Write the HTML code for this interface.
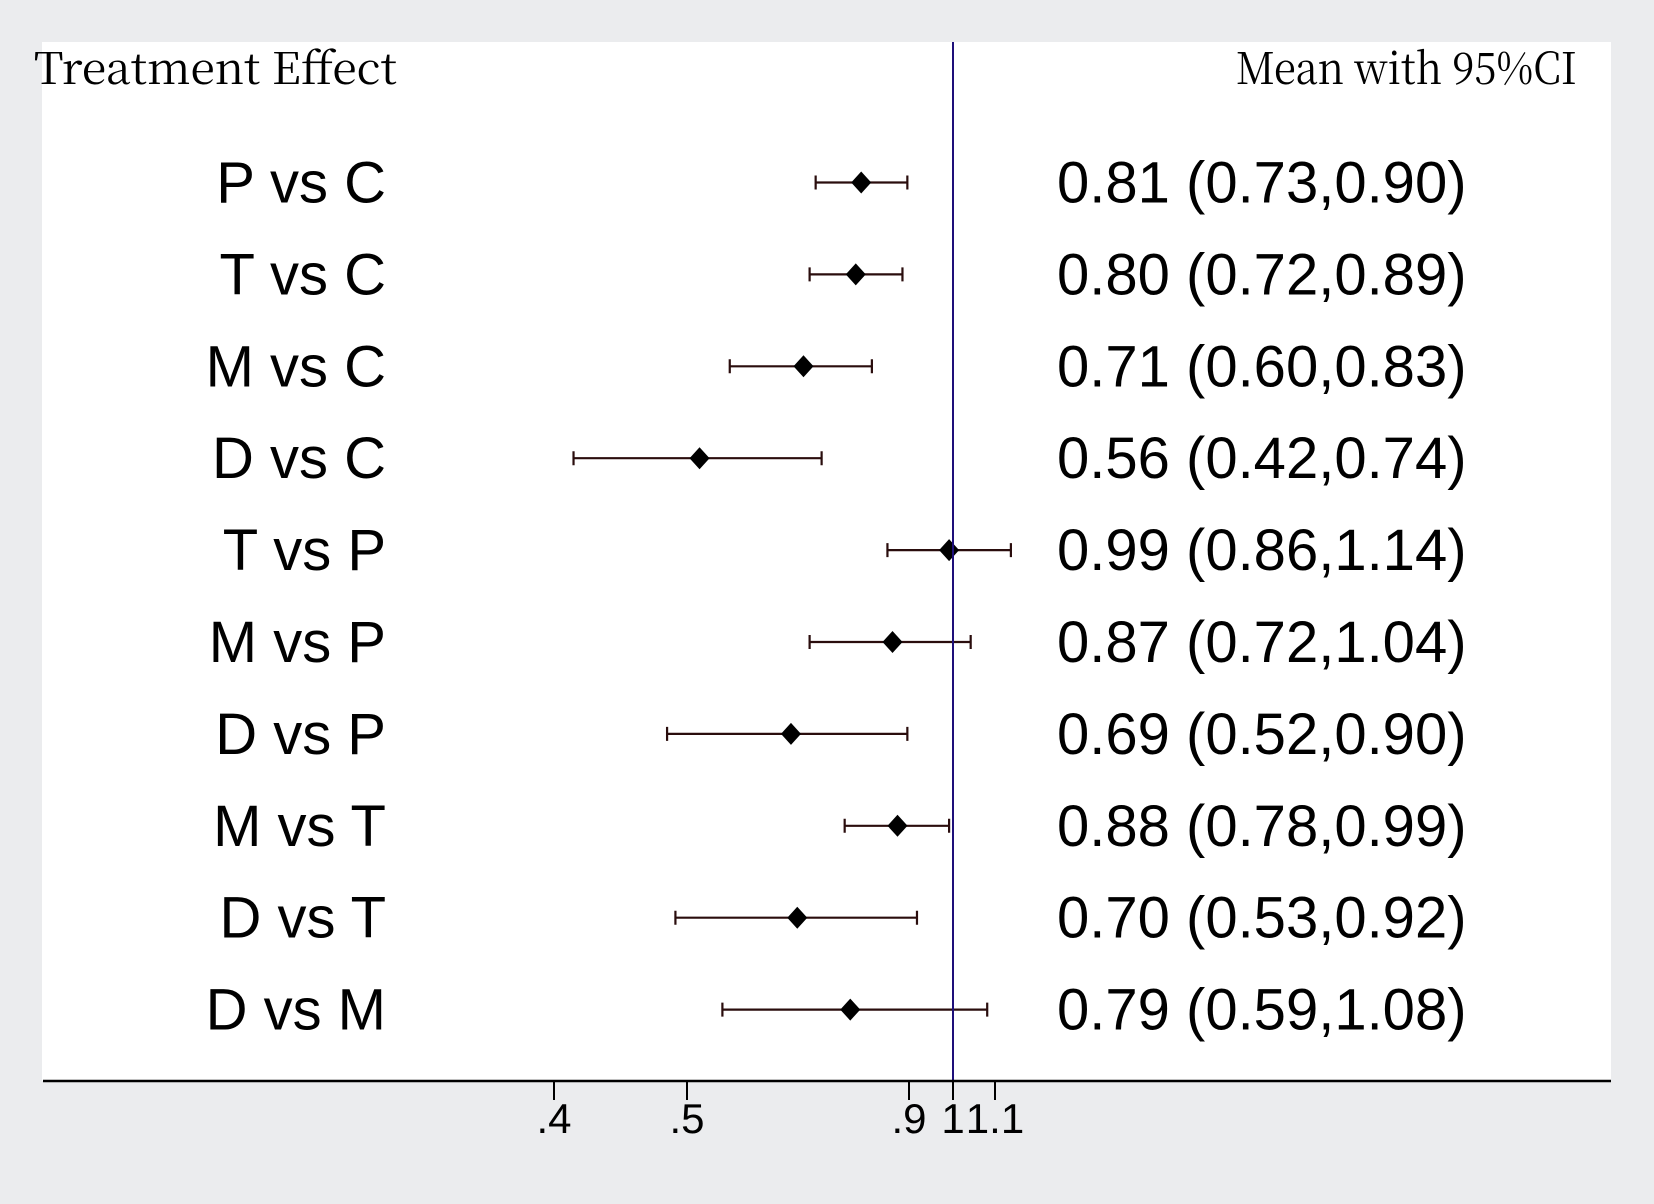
<!DOCTYPE html>
<html><head><meta charset="utf-8"><style>
html,body{margin:0;padding:0;background:#ebecee;}
svg{display:block;}
</style></head><body>
<svg id="chart" width="1654" height="1204" viewBox="0 0 1654 1204" xmlns="http://www.w3.org/2000/svg">
<rect x="0" y="0" width="1654" height="1204" fill="#ebecee"/>
<rect x="42" y="42" width="1569" height="1039" fill="#ffffff"/>
<text x="34" y="84" font-family="'Noto Serif CJK SC','Liberation Serif',serif" font-size="44" textLength="363" lengthAdjust="spacingAndGlyphs">Treatment Effect</text>
<text x="1236" y="84" font-family="'Noto Serif CJK SC','Liberation Serif',serif" font-size="44" textLength="341" lengthAdjust="spacingAndGlyphs">Mean with 95%CI</text>
<g id="marks"></g>
<line x1="953" y1="42" x2="953" y2="1081" stroke="#1e0f7a" stroke-width="2"/>
<line x1="43" y1="1081" x2="1611" y2="1081" stroke="#000" stroke-width="2.5"/>
<g id="axis"></g>
</svg>
<script>
const labels = ["P vs C","T vs C","M vs C","D vs C","T vs P","M vs P","D vs P","M vs T","D vs T","D vs M"];
const means = [0.81,0.80,0.71,0.56,0.99,0.87,0.69,0.88,0.70,0.79];
const lows  = [0.73,0.72,0.60,0.42,0.86,0.72,0.52,0.78,0.53,0.59];
const highs = [0.90,0.89,0.83,0.74,1.14,1.04,0.90,0.99,0.92,1.08];
const tickLabels = [".4",".5",".9","1","1.1"];
const tickPx = [554,687,909,953,995];

const NS = "http://www.w3.org/2000/svg";
function xScale(v){ return 953.5 + 438*Math.log(v); }
function yScale(i){ return 182.5 + 91.9*i; }
function mk(tag, attrs, parent){
  const e = document.createElementNS(NS, tag);
  for (const k in attrs) e.setAttribute(k, attrs[k]);
  parent.appendChild(e); return e;
}
const g = document.getElementById("marks");
const fmt = v => v.toFixed(2);
labels.forEach((lab, i) => {
  const y = yScale(i), xl = xScale(lows[i]), xh = xScale(highs[i]), xm = xScale(means[i]);
  const t = mk("text", {x:386, y:y+20, "text-anchor":"end", "font-family":"'Liberation Sans',Arial,sans-serif", "font-size":"58", fill:"#000"}, g);
  t.textContent = lab;
  
  
  const ci = mk("path", {d:`M${xl},${y}H${xh}M${xl},${y-7}V${y+7}M${xh},${y-7}V${y+7}`, stroke:"#2a0d0d", "stroke-width":"2.2", fill:"none"}, g);
  
  
  const d = mk("path", {d:`M${xm},${y-11}L${xm+10},${y}L${xm},${y+11}L${xm-10},${y}Z`, fill:"#000"}, g);
  
  
  const v = mk("text", {x:1057, y:y+20, "font-family":"'Liberation Sans',Arial,sans-serif", "font-size":"58", fill:"#000"}, g);
  v.textContent = `${fmt(means[i])} (${fmt(lows[i])},${fmt(highs[i])})`;
  
  
});
const ax = document.getElementById("axis");
tickLabels.forEach((lab, i) => {
  const x = tickPx[i];
  const tk = mk("line", {x1:x, y1:1081, x2:x, y2:1100, stroke:"#000", "stroke-width":"2"}, ax);
  
  
  const tl = mk("text", {x:x, y:1133, "text-anchor":"middle", "font-family":"'Liberation Sans',Arial,sans-serif", "font-size":"42", fill:"#000"}, ax);
  tl.textContent = lab;
  
  
});
</script>
</body></html>
